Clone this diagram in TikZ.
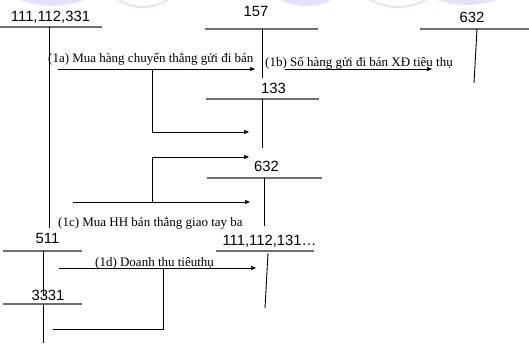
\documentclass[tikz,border=0pt]{standalone}
\usepackage{fontspec}
\setmainfont{Liberation Serif}
\newfontfamily\acctfont{Liberation Sans}
\usetikzlibrary{arrows.meta}
\definecolor{lav}{RGB}{228,226,245}
\definecolor{bargray}{RGB}{110,110,110}
\tikzset{
  acct/.style={font=\acctfont\fontsize{14.8}{17}\selectfont, inner sep=0pt, anchor=base},
  note/.style={font=\fontsize{13}{15}\selectfont, inner sep=0pt, anchor=base west},
  bar/.style={draw=bargray, line width=1.3pt},
  stem/.style={draw=black, line width=0.9pt},
  flow/.style={draw=black, line width=0.7pt, -{Triangle[length=5pt,width=4pt]}},
  link/.style={draw=black, line width=0.7pt},
  deco/.style={fill=lav, draw=none},
  ring/.style={draw=lav, line width=2pt, fill=none}
}
\begin{document}
\begin{tikzpicture}[x=1pt, y=-1pt]
\useasboundingbox (0,0) rectangle (529,345);
\begin{scope}
  \clip (0,0) rectangle (529,345);
  % decorative discs along the top edge
  \fill[deco] (52,-80) circle (86);
  \draw[ring] (143,-39) circle (46);
  \fill[deco] (306,-53) circle (59);
  \draw[ring] (398,-50) circle (57);
  \fill[deco] (467,-87) circle (92);
\end{scope}

% account titles
\node[acct] (t111) at (50.5,21.5) {111,112,331};
\node[acct] (t157) at (256,17) {157};
\node[acct] (t632a) at (472,22.5) {632};
\node[acct] (t133) at (273.5,93) {133};
\node[acct] (t632b) at (266.5,171.5) {632};
\node[acct] (t511) at (47.5,243) {511};
\node[acct] (t3331) at (48,300) {3331};
\node[acct] (t111b) at (269.5,245.5) {111,112,131\ldots};

% T-account bars and stems
\coordinate (b111l) at (0,27);   \coordinate (b111r) at (102,27);
\coordinate (s111t) at (49,27);  \coordinate (s111b) at (49,228);
\coordinate (b157l) at (205,29); \coordinate (b157r) at (318,29);
\coordinate (s157t) at (262,29); \coordinate (s157b) at (262,78);
\coordinate (b632al) at (420,29); \coordinate (b632ar) at (529,29);
\coordinate (s632at) at (477,29); \coordinate (s632ab) at (474,83);
\coordinate (b133l) at (206,99); \coordinate (b133r) at (319,99);
\coordinate (s133t) at (262,99); \coordinate (s133b) at (262,148);
\coordinate (b632bl) at (207,178); \coordinate (b632br) at (322,178);
\coordinate (s632bt) at (264,178); \coordinate (s632bb) at (264,226);
\coordinate (b511l) at (3,251); \coordinate (b511r) at (82,251);
\coordinate (s511t) at (43,251); \coordinate (s511b) at (43,296);
\coordinate (b3331l) at (3,304); \coordinate (b3331r) at (82,304);
\coordinate (s3331t) at (43,304); \coordinate (s3331b) at (43,343);
\coordinate (b111bl) at (216,251); \coordinate (b111br) at (314,251);
\coordinate (s111bt) at (268,253); \coordinate (s111bb) at (265,308);

\foreach \a/\b in {b111l/b111r, b157l/b157r, b632al/b632ar, b133l/b133r,
                   b632bl/b632br, b511l/b511r, b3331l/b3331r, b111bl/b111br}
  \path[bar] (\a) -- (\b);
\foreach \a/\b in {s111t/s111b, s157t/s157b, s632at/s632ab, s133t/s133b,
                   s632bt/s632bb, s511t/s511b, s3331t/s3331b, s111bt/s111bb}
  \path[stem] (\a) -- (\b);

% entries
\node[note] (n1a) at (48,62) {(1a) Mua hàng chuyển thẳng gửi đi bán};
\node[note] (n1b) at (265,66) {(1b) Số hàng gửi đi bán XĐ tiêu thụ};
\node[note] (n1c) at (58,226) {(1c) Mua HH bán thẳng giao tay ba};
\node[note] (n1d) at (95,266) {(1d) Doanh thu tiêuthụ};

\coordinate (a1s) at (58,69);  \coordinate (a1e) at (255,69);
\coordinate (a1k) at (152,69); \coordinate (a1t) at (249,132);
\coordinate (b1s) at (285,69); \coordinate (b1e) at (432,69);
\coordinate (c1s) at (73,202); \coordinate (c1e) at (250,202);
\coordinate (c1k) at (152,202); \coordinate (c1t) at (249,157);
\coordinate (d1s) at (59,268); \coordinate (d1e) at (256,268);
\coordinate (d1k) at (163,268); \coordinate (d1t) at (53,329);

\path[flow] (a1s) -- (a1e);
\path[flow] (a1k) |- (a1t);
\path[flow] (b1s) -- (b1e);
\path[flow] (c1s) -- (c1e);
\path[flow] (c1k) |- (c1t);
\path[flow] (d1s) -- (d1e);
\path[link] (d1k) |- (d1t);
\end{tikzpicture}
\end{document}
